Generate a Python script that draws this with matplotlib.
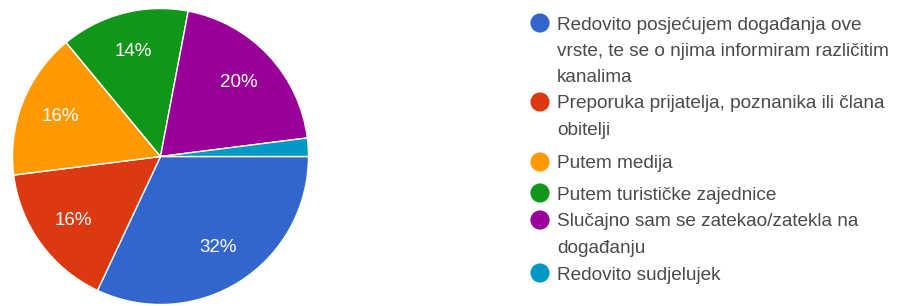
import matplotlib.pyplot as plt

plt.rcParams['font.family'] = ['Liberation Sans', 'DejaVu Sans']

# odgovori (postotci)
labels = [
    'Redovito posjećujem događanja ove\nvrste, te se o njima informiram različitim\nkanalima',
    'Preporuka prijatelja, poznanika ili člana\nobitelji',
    'Putem medija',
    'Putem turističke zajednice',
    'Slučajno sam se zatekao/zatekla na\ndogađanju',
    'Redovito sudjelujek',
]
values = [32, 16, 16, 14, 20, 2]
colors = ['#3366cc', '#dc3912', '#ff9900', '#109618', '#990099', '#0099c6']

W, H = 910, 306
fig = plt.figure(figsize=(W / 100, H / 100), dpi=100)

# pie, positioned in pixels
cx, cy, r = 160.5, 156.5, 148
ax = fig.add_axes([(cx - r) / W, 1 - (cy + r) / H, 2 * r / W, 2 * r / H])


def pct(p):
    return f'{p:.0f}%' if p >= 5 else ''


wedges, texts, autotexts = ax.pie(
    values, colors=colors, startangle=0, counterclock=False,
    autopct=pct, pctdistance=0.73, radius=1,
    wedgeprops=dict(edgecolor='white', linewidth=1),
    textprops=dict(color='white', fontsize=13.5))
ax.set_xlim(-1, 1)
ax.set_ylim(-1, 1)
ax.set_aspect('equal')
ax.axis('off')

# legend, drawn by hand so wrapped entries line up like the original
lg = fig.add_axes([0, 0, 1, 1])
lg.set_xlim(0, W)
lg.set_ylim(H, 0)
lg.axis('off')

entry_y = [23, 102, 162, 193, 220, 273]
line_step = 26.5
for lab, col, y in zip(labels, colors, entry_y):
    lg.scatter([540], [y], s=190, color=col, edgecolors='none')
    for k, line in enumerate(lab.split('\n')):
        lg.text(557, y + k * line_step + 6.5, line, fontsize=13.7,
                color='#4a4a4a', va='baseline', ha='left')

fig.savefig('out.png', dpi=100)
